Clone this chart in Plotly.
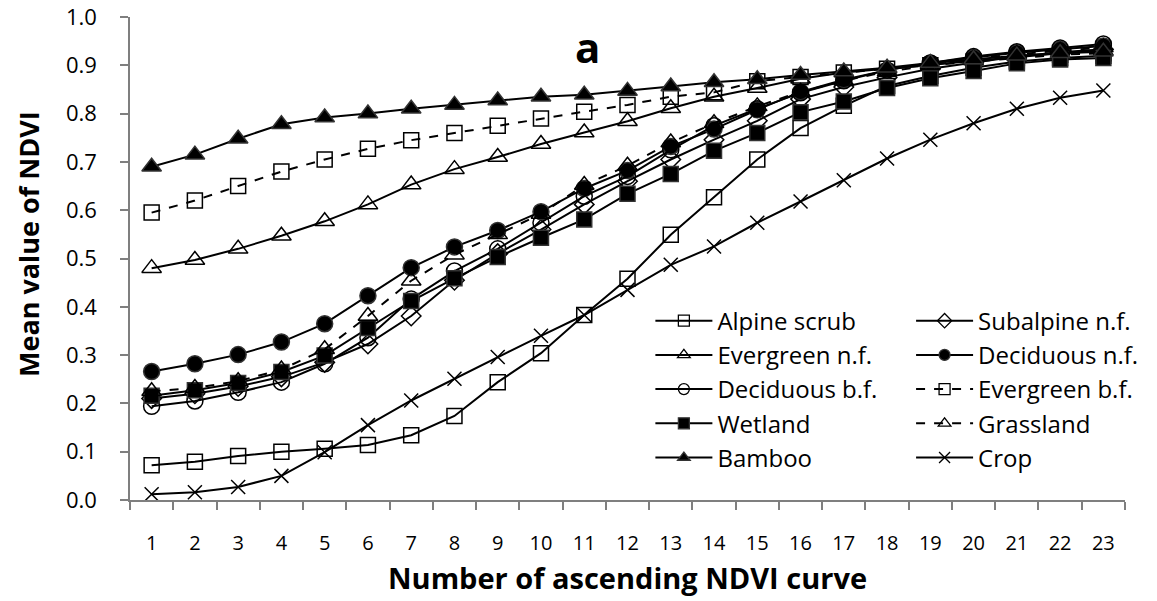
import plotly.graph_objects as go

# Curve index on the x axis
curve_number = [str(i) for i in range(1, 24)]
y_ticks = [0.0, 0.1, 0.2, 0.3, 0.4, 0.5, 0.6, 0.7, 0.8, 0.9, 1.0]

alpine_scrub = [0.072, 0.079, 0.091, 0.100, 0.106, 0.114, 0.134, 0.174, 0.244, 0.304, 0.383, 0.458,
                0.549, 0.627, 0.705, 0.770, 0.816, 0.857, 0.878, 0.895, 0.908, 0.915, 0.920]
subalpine_nf = [0.210, 0.220, 0.235, 0.255, 0.285, 0.323, 0.381, 0.455, 0.510, 0.560, 0.612, 0.660,
                0.705, 0.746, 0.785, 0.830, 0.855, 0.875, 0.893, 0.906, 0.918, 0.927, 0.933]
evergreen_nf = [0.480, 0.497, 0.520, 0.547, 0.577, 0.612, 0.653, 0.685, 0.710, 0.737, 0.761, 0.784,
                0.811, 0.835, 0.853, 0.872, 0.885, 0.893, 0.902, 0.910, 0.918, 0.925, 0.930]
deciduous_nf = [0.266, 0.282, 0.301, 0.327, 0.365, 0.423, 0.481, 0.524, 0.558, 0.597, 0.645, 0.682,
                0.732, 0.768, 0.808, 0.845, 0.870, 0.890, 0.905, 0.916, 0.926, 0.933, 0.940]
deciduous_bf = [0.194, 0.205, 0.223, 0.244, 0.282, 0.336, 0.416, 0.474, 0.520, 0.574, 0.629, 0.670,
                0.725, 0.775, 0.810, 0.843, 0.868, 0.890, 0.905, 0.918, 0.928, 0.936, 0.944]
evergreen_bf = [0.595, 0.620, 0.650, 0.680, 0.705, 0.727, 0.745, 0.760, 0.775, 0.790, 0.804, 0.818,
                0.835, 0.844, 0.867, 0.876, 0.885, 0.893, 0.900, 0.908, 0.915, 0.922, 0.925]
wetland = [0.216, 0.227, 0.242, 0.265, 0.299, 0.356, 0.412, 0.459, 0.503, 0.543, 0.581, 0.634,
           0.675, 0.723, 0.760, 0.803, 0.825, 0.853, 0.873, 0.888, 0.904, 0.912, 0.915]
grassland = [0.225, 0.232, 0.246, 0.270, 0.312, 0.381, 0.454, 0.508, 0.550, 0.592, 0.652, 0.692,
             0.740, 0.780, 0.815, 0.845, 0.868, 0.887, 0.900, 0.913, 0.923, 0.930, 0.937]
bamboo = [0.690, 0.715, 0.748, 0.778, 0.792, 0.800, 0.810, 0.818, 0.827, 0.835, 0.839, 0.847,
          0.856, 0.865, 0.871, 0.880, 0.887, 0.895, 0.905, 0.912, 0.920, 0.925, 0.928]
crop = [0.012, 0.016, 0.027, 0.050, 0.099, 0.155, 0.206, 0.251, 0.296, 0.340, 0.383, 0.435,
        0.487, 0.525, 0.574, 0.618, 0.662, 0.707, 0.746, 0.780, 0.810, 0.833, 0.848]

FONT = "Open Sans"
INK = "#000000"
AXIS = "#7f7f7f"

# name, values, marker symbol, line dash, legend column
series = [
    ("Alpine scrub", alpine_scrub, "square-open", "solid", "legend"),
    ("Subalpine n.f.", subalpine_nf, "diamond-open", "solid", "legend2"),
    ("Evergreen n.f.", evergreen_nf, "triangle-up-open", "solid", "legend"),
    ("Deciduous n.f.", deciduous_nf, "circle", "solid", "legend2"),
    ("Deciduous b.f.", deciduous_bf, "circle-open", "solid", "legend"),
    ("Evergreen b.f.", evergreen_bf, "square-open", "dash", "legend2"),
    ("Wetland", wetland, "square", "solid", "legend"),
    ("Grassland", grassland, "triangle-up-open", "dash", "legend2"),
    ("Bamboo", bamboo, "triangle-up", "solid", "legend"),
    ("Crop", crop, "x-thin-open", "solid", "legend2"),
]

marker_size = {"square-open": 15, "square": 15, "circle": 16, "circle-open": 16,
               "triangle-up": 17, "triangle-up-open": 17, "diamond-open": 15, "x-thin-open": 14}

fig = go.Figure()

for name, values, symbol, dash, leg in series:
    fig.add_trace(go.Scatter(
        x=curve_number, y=values, mode="lines+markers", name=name,
        line=dict(color=INK, width=2, dash=dash),
        marker=dict(symbol=symbol, size=marker_size[symbol], color=INK,
                    line=dict(color="#333333", width=1.5)),
        showlegend=False,
    ))

# Legend entries with smaller symbols, split into two columns
for name, values, symbol, dash, leg in series:
    fig.add_trace(go.Scatter(
        x=[None], y=[None], mode="lines+markers", name=name, legend=leg,
        legendgroup=name,
        line=dict(color=INK, width=2, dash=dash),
        marker=dict(symbol=symbol, size=11, color=INK,
                    line=dict(color="#333333", width=1.3)),
    ))

legend_style = dict(font=dict(family=FONT, size=24, color=INK), bgcolor="rgba(0,0,0,0)",
                    itemwidth=57, tracegroupgap=0, yanchor="top", xanchor="left",
                    traceorder="grouped")

fig.update_layout(
    width=1157, height=601,
    margin=dict(l=130, r=32, t=17, b=101),
    paper_bgcolor="white", plot_bgcolor="white",
    font=dict(family=FONT, color=INK),
    legend=dict(x=0.523, y=0.417, **legend_style),
    legend2=dict(x=0.785, y=0.417, **legend_style),
    annotations=[
        dict(text="<b>a</b>", x=0.46, y=0.938, xref="paper", yref="paper",
             xanchor="center", yanchor="middle", showarrow=False,
             font=dict(family=FONT, size=42, color=INK)),
        dict(text="<b>Number of ascending NDVI curve</b>", x=0.5, y=-0.205,
             xref="paper", yref="paper", xanchor="center", yanchor="bottom", showarrow=False,
             font=dict(family=FONT, size=29, color=INK)),
        dict(text="<b>Mean value of NDVI</b>", x=-0.1025, y=0.53, textangle=-90,
             xref="paper", yref="paper", xanchor="center", yanchor="middle", showarrow=False,
             font=dict(family=FONT, size=27, color=INK)),
    ],
)

fig.update_xaxes(
    type="category", range=[-0.5, 22.5], tickson="boundaries", automargin=False,
    ticks="outside", ticklen=8, tickcolor=AXIS, tickwidth=1.5,
    showline=True, linecolor=AXIS, linewidth=1.5, showgrid=False, zeroline=False,
    tickfont=dict(family=FONT, size=20, color=INK), ticklabelstandoff=24,
)
fig.update_yaxes(
    range=[0, 1.0], tickvals=y_ticks, tickformat=".1f", automargin=False,
    ticklabeloverflow="allow",
    ticks="outside", ticklen=8, tickcolor=AXIS, tickwidth=1.5,
    showline=True, linecolor=AXIS, linewidth=1.5, showgrid=False, zeroline=False,
    tickfont=dict(family=FONT, size=22, color=INK), ticklabelstandoff=19,
)

fig.write_html("out.html")
